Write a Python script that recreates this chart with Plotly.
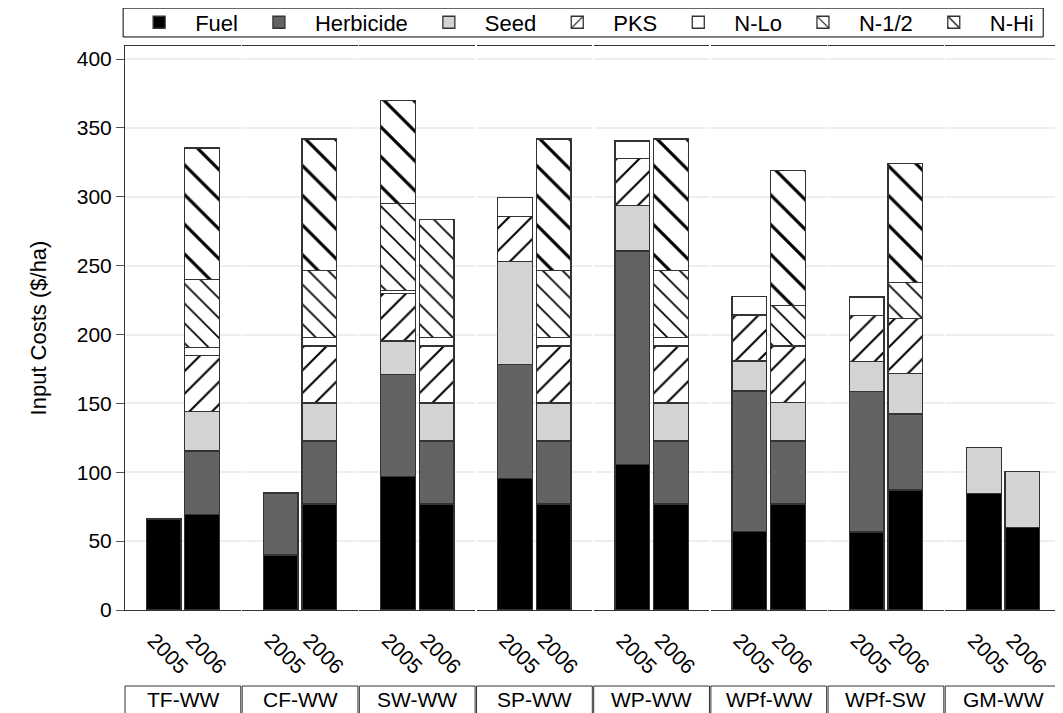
import plotly.graph_objects as go
from plotly.subplots import make_subplots

groups = ["TF-WW", "CF-WW", "SW-WW", "SP-WW", "WP-WW", "WPf-WW", "WPf-SW", "GM-WW"]
years = ["2005", "2006"]

fuel      = [[66, 69.5], [40, 77], [96.8, 77], [95.6, 77], [105.7, 77], [56.9, 77], [56.6, 87.1], [84.7, 60]]
herbicide = [[0, 46], [45, 45.7], [74.2, 45.7], [82.8, 45.7], [154.9, 45.7], [102.1, 45.7], [102.1, 55.2], [0, 0]]
seed      = [[0, 28.5], [0, 27.6], [24.3, 27.6], [74.6, 27.6], [32.9, 27.6], [21.8, 27.8], [21.8, 29.5], [33.4, 40.4]]
pks       = [[0, 41], [0, 41.3], [34.6, 41.3], [32.5, 41.3], [34.1, 41.3], [33.4, 41.1], [33.4, 39.9], [0, 0]]
n_lo      = [[0, 5.5], [0, 6.4], [1.9, 6.4], [14, 6.4], [12.9, 6.4], [13.3, 0], [13.3, 0], [0, 0]]
n_half    = [[0, 49.5], [0, 48.3], [63.4, 85.6], [0, 48.3], [0, 48.3], [0, 29.4], [0, 26.2], [0, 0]]
n_hi      = [[0, 95.5], [0, 95.7], [74.5, 0], [0, 95.7], [0, 95.7], [0, 98], [0, 86.1], [0, 0]]

y_ticks = [0, 50, 100, 150, 200, 250, 300, 350, 400]

def hatch(shape, size, solidity):
    return dict(shape=shape, fgcolor="black", bgcolor="white", fgopacity=1,
                size=size, solidity=solidity)

components = [
    ("Fuel", fuel, dict(color="black")),
    ("Herbicide", herbicide, dict(color="#636363")),
    ("Seed", seed, dict(color="#d3d3d3")),
    ("PKS", pks, dict(color="white", pattern=hatch("/", 16, 0.13))),
    ("N-Lo", n_lo, dict(color="white")),
    ("N-1/2", n_half, dict(color="white", pattern=hatch("\\", 14, 0.12))),
    ("N-Hi", n_hi, dict(color="white", pattern=hatch("\\", 21, 0.15))),
]

n = len(groups)
fig = make_subplots(rows=1, cols=n, shared_yaxes=True, horizontal_spacing=0.0015)

for gi, g in enumerate(groups):
    for name, vals, mk in components:
        ys = [v if v else None for v in vals[gi]]
        marker = dict(mk)
        marker["line"] = dict(color="#333333", width=1.3)
        fig.add_trace(
            go.Bar(
                x=years, y=ys, name=name, marker=marker, width=0.9,
                legendgroup=name, showlegend=(gi == 0),
            ),
            row=1, col=gi + 1,
        )

fig.update_layout(
    barmode="stack",
    width=1055, height=705,
    margin=dict(l=117, r=2, t=38, b=103, autoexpand=False),
    paper_bgcolor="white", plot_bgcolor="white",
    font=dict(family="Liberation Sans, Arial, sans-serif", size=21, color="black"),
    legend=dict(
        orientation="h", x=-0.002, y=1.079, xanchor="left", yanchor="top",
        borderwidth=0, font=dict(size=22),
        bgcolor="rgba(255,255,255,0)",
        itemwidth=62, tracegroupgap=0,
    ),
)

# frame around the legend row
fig.add_shape(type="rect", xref="paper", yref="paper", x0=-0.002, x1=0.981,
              y0=1.016, y1=1.0672, line=dict(color="black", width=1),
              fillcolor="rgba(0,0,0,0)", layer="above")

for i in range(1, n + 1):
    fig.update_xaxes(
        row=1, col=i, range=[-1, 2], showline=True, mirror=True,
        linecolor="#333333", linewidth=1, ticks="", tickangle=45,
        tickfont=dict(size=21), showgrid=False, fixedrange=True,
        ticklabelstandoff=9, ticklabelshift=-10,
    )
    fig.update_yaxes(
        row=1, col=i, range=[0, 409.5], tickvals=y_ticks, showgrid=True,
        gridcolor="#eeeeee", gridwidth=2, zeroline=False,
    )

fig.update_yaxes(
    row=1, col=1, showline=True, linecolor="#333333", linewidth=1,
    ticks="outside", ticklen=8, tickcolor="#555555", tickfont=dict(size=21),
    title=dict(text="Input Costs ($/ha)", font=dict(size=22), standoff=24),
)
fig.update_yaxes(row=1, col=n, showline=True, side="right", linecolor="#333333",
                 linewidth=1, ticks="", showticklabels=False)

for i, g in enumerate(groups):
    xref = "x domain" if i == 0 else f"x{i + 1} domain"
    fig.add_shape(
        type="rect", xref=xref, yref="paper", x0=0, x1=1, y0=-0.196, y1=-0.1348,
        line=dict(color="#333333", width=1), fillcolor="white",
    )
    fig.add_annotation(
        xref=xref, yref="paper", x=0.5, y=-0.158, text=g, showarrow=False,
        font=dict(size=21), xanchor="center", yanchor="middle",
    )

fig.write_html("out.html")
